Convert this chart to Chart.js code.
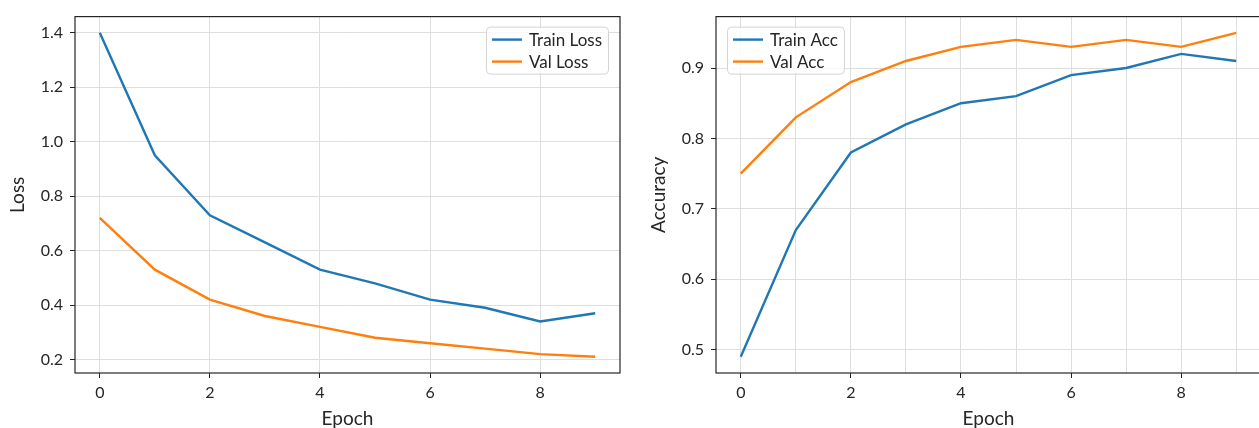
<!DOCTYPE html>
<html>
<head>
<meta charset="utf-8">
<script src="https://cdn.jsdelivr.net/npm/chart.js@4/dist/chart.umd.min.js"></script>
<style>
  body { margin: 0; background: #fff; overflow: hidden; width: 1259px; height: 428px; }
  .panel { position: absolute; top: 0; }
</style>
</head>
<body>
<div class="panel" style="left:0"><canvas id="lossChart" width="640" height="428"></canvas></div>
<div class="panel" style="left:641px"><canvas id="accChart" width="640" height="428"></canvas></div>
<script>
// ---- data ----
var epochs = [0, 1, 2, 3, 4, 5, 6, 7, 8, 9];
var trainLoss = [1.40, 0.95, 0.73, 0.63, 0.53, 0.48, 0.42, 0.39, 0.34, 0.37];
var valLoss = [0.72, 0.53, 0.42, 0.36, 0.32, 0.28, 0.26, 0.24, 0.22, 0.21];
var trainAcc = [0.49, 0.67, 0.78, 0.82, 0.85, 0.86, 0.89, 0.90, 0.92, 0.91];
var valAcc = [0.75, 0.83, 0.88, 0.91, 0.93, 0.94, 0.93, 0.94, 0.93, 0.95];

var lossXTicks = [0, 2, 4, 6, 8];
var accXTicks = [0, 1, 2, 3, 4, 5, 6, 7, 8, 9];
var lossYTicks = [0.2, 0.4, 0.6, 0.8, 1.0, 1.2, 1.4];
var accYTicks = [0.5, 0.6, 0.7, 0.8, 0.9];

var BLUE = '#1f77b4';
var ORANGE = '#ff7f0e';
var INK = '#262626';
var GRID = '#dedede';
var FONT = 'Lato';

function points(ys) {
	return epochs.map(function(e, i) { return {x: e, y: ys[i]}; });
}

// matplotlib-like data limits: 5% margin
function padded(arr) {
	var lo = Math.min.apply(null, arr), hi = Math.max.apply(null, arr);
	var m = (hi - lo) * 0.05;
	return [lo - m, hi + m];
}

// all four spines
var framePlugin = {
	id: 'frame',
	afterDatasetsDraw: function(chart) {
		var a = chart.chartArea, ctx = chart.ctx;
		ctx.save();
		ctx.strokeStyle = INK;
		ctx.lineWidth = 1.2;
		ctx.strokeRect(a.left, a.top, a.right - a.left, a.bottom - a.top);
		ctx.restore();
	}
};

// legend drawn inside the axes with a rounded frame
var boxLegend = {
	id: 'boxLegend',
	afterDraw: function(chart) {
		var o = chart.options.plugins.boxLegend;
		if (!o || !o.side) return;
		var ctx = chart.ctx, a = chart.chartArea;
		var sets = chart.data.datasets;
		ctx.save();
		ctx.font = '17px ' + FONT;
		var textW = Math.max.apply(null, sets.map(function(d) { return ctx.measureText(d.label).width; }));
		var pad = 6, handle = 30, gap = 7, rowH = 22;
		var w = pad + handle + gap + textW + pad;
		var h = 47;
		var x = o.side === 'right' ? a.right - 12 - w : a.left + 11;
		var y = a.top + 10;

		ctx.beginPath();
		ctx.roundRect(x + 0.5, y + 0.5, w, h, 4);
		ctx.fillStyle = 'rgba(255,255,255,0.8)';
		ctx.fill();
		ctx.strokeStyle = '#d4d4d4';
		ctx.lineWidth = 1;
		ctx.stroke();

		sets.forEach(function(d, i) {
			var cy = y + 13 + i * rowH;
			ctx.beginPath();
			ctx.moveTo(x + pad, cy);
			ctx.lineTo(x + pad + handle, cy);
			ctx.strokeStyle = d.borderColor;
			ctx.lineWidth = 2.4;
			ctx.stroke();
			ctx.fillStyle = INK;
			ctx.textBaseline = 'middle';
			ctx.textAlign = 'left';
			ctx.fillText(d.label, x + pad + handle + gap, cy + 1);
		});
		ctx.restore();
	}
};

function makeChart(id, sets, yLabel, xTicks, yTicks, yRange, legendSide, oddTicks) {
	return new Chart(document.getElementById(id), {
		type: 'line',
		data: {
			datasets: sets.map(function(s) {
				return {
					label: s.label,
					data: points(s.data),
					borderColor: s.color,
					backgroundColor: s.color,
					borderWidth: 2.4,
					pointRadius: 0,
					tension: 0,
					fill: false
				};
			})
		},
		options: {
			responsive: false,
			animation: false,
			devicePixelRatio: 1,
			layout: { padding: { top: 16, right: 20, left: 0, bottom: 0 } },
			plugins: {
				legend: { display: false },
				tooltip: { enabled: false },
				boxLegend: { side: legendSide }
			},
			scales: {
				x: {
					type: 'linear',
					min: -0.45,
					max: 9.45,
					afterBuildTicks: function(s) { s.ticks = xTicks.map(function(v) { return {value: v}; }); },
					afterFit: function(s) { s.height = 55; },
					border: { display: false },
					grid: {
						color: GRID,
						lineWidth: 1,
						tickLength: 5,
						tickColor: function(c) {
							return (c.tick && c.tick.value % 2) ? 'rgba(0,0,0,0)' : INK;
						}
					},
					ticks: {
						autoSkip: false,
						maxRotation: 0,
						padding: 5,
						color: INK,
						font: { family: FONT, size: 16 },
						callback: function(v) { return (v % 2 && oddTicks) ? '' : String(v); }
					},
					title: {
						display: true,
						text: 'Epoch',
						color: INK,
						font: { family: FONT, size: 19 },
						padding: { top: 0, bottom: -2 }
					}
				},
				y: {
					min: yRange[0],
					max: yRange[1],
					afterBuildTicks: function(s) { s.ticks = yTicks.map(function(v) { return {value: v}; }); },
					afterFit: function(s) { s.width = 75; },
					border: { display: false },
					grid: { color: GRID, lineWidth: 1, tickLength: 5, tickColor: INK },
					ticks: {
						padding: 7,
						color: INK,
						font: { family: FONT, size: 16 },
						callback: function(v) { return Number(v).toFixed(1); }
					},
					title: {
						display: true,
						text: yLabel,
						color: INK,
						font: { family: FONT, size: 19 },
						padding: { top: 6, bottom: 0 }
					}
				}
			}
		},
		plugins: [framePlugin, boxLegend]
	});
}

makeChart('lossChart',
	[{label: 'Train Loss', data: trainLoss, color: BLUE}, {label: 'Val Loss', data: valLoss, color: ORANGE}],
	'Loss', lossXTicks, lossYTicks, padded(trainLoss.concat(valLoss)), 'right', false);

makeChart('accChart',
	[{label: 'Train Acc', data: trainAcc, color: BLUE}, {label: 'Val Acc', data: valAcc, color: ORANGE}],
	'Accuracy', accXTicks, accYTicks, padded(trainAcc.concat(valAcc)), 'left', true);
</script>
</body>
</html>
